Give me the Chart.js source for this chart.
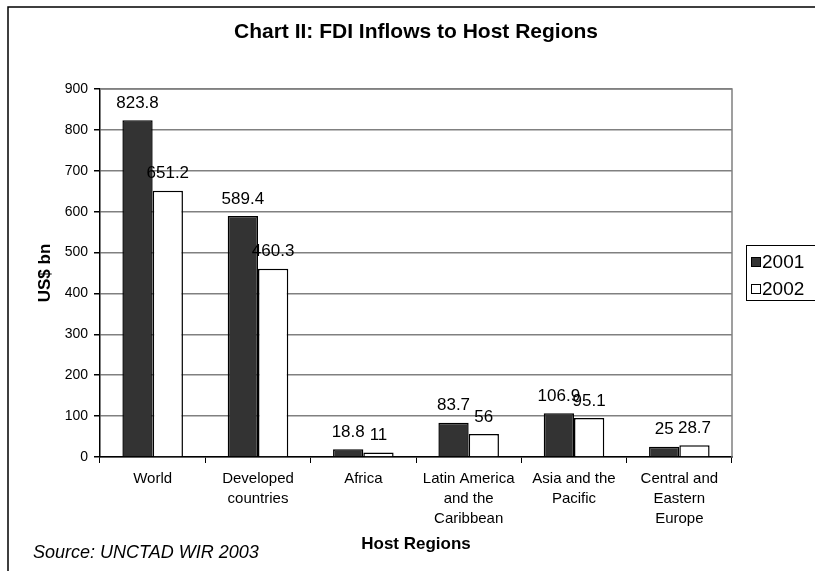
<!DOCTYPE html>
<html>
<head>
<meta charset="utf-8">
<script src="https://cdn.jsdelivr.net/npm/chart.js@4.4.1/dist/chart.umd.min.js"></script>
<style>
  html, body { margin: 0; padding: 0; background: #fff; }
  #wrap { width: 815px; height: 571px; }
</style>
</head>
<body>
<div id="wrap"><canvas id="fdi"></canvas></div>
<script>
var regions = [
  "World",
  ["Developed", "countries"],
  "Africa",
  ["Latin America", "and the", "Caribbean"],
  ["Asia and the", "Pacific"],
  ["Central and", "Eastern", "Europe"]
];
var inflows2001 = [823.8, 589.4, 18.8, 83.7, 106.9, 25];
var inflows2002 = [651.2, 460.3, 11, 56, 95.1, 28.7];
var yTicks = [0, 100, 200, 300, 400, 500, 600, 700, 800, 900];

var FONT = "Arial, 'Liberation Sans', sans-serif";

// value labels above bars
var valueLabels = {
  id: 'valueLabels',
  afterDatasetsDraw: function(chart) {
    var ctx = chart.ctx;
    ctx.save();
    ctx.font = "17px " + FONT;
    ctx.fillStyle = "#000";
    ctx.textAlign = "center";
    ctx.textBaseline = "middle";
    chart.data.datasets.forEach(function(ds, i) {
      chart.getDatasetMeta(i).data.forEach(function(bar, j) {
        ctx.fillText(ds.data[j], bar.x, bar.y - 17);
      });
    });
    ctx.restore();
  }
};

// frame, plot box, title, legend and source note
var extras = {
  id: 'extras',
  beforeDatasetsDraw: function(chart) {
    var a = chart.chartArea, ctx = chart.ctx;
    ctx.save();
    ctx.strokeStyle = "#808080";
    ctx.lineWidth = 1.5;
    ctx.beginPath();
    ctx.moveTo(a.left, a.top);
    ctx.lineTo(a.right, a.top);
    ctx.lineTo(a.right, a.bottom);
    ctx.stroke();
    ctx.restore();
  },
  afterDraw: function(chart) {
    var ctx = chart.ctx, a = chart.chartArea;
    ctx.save();
    // outer frame
    ctx.strokeStyle = "#000";
    ctx.lineWidth = 1.5;
    ctx.strokeRect(8, 7, 830, 600);

    // title
    ctx.fillStyle = "#000";
    ctx.font = "bold 21px " + FONT;
    ctx.textAlign = "center";
    ctx.textBaseline = "middle";
    ctx.fillText("Chart II: FDI Inflows to Host Regions", (a.left + a.right) / 2, 32);

    // legend
    ctx.lineWidth = 1;
    ctx.strokeStyle = "#000";
    ctx.strokeRect(746.5, 245.5, 80, 55);
    ctx.font = "19px " + FONT;
    ctx.textBaseline = "middle";
    ctx.textAlign = "left";
    chart.data.datasets.forEach(function(ds, i) {
      var y = 262 + i * 27;
      ctx.fillStyle = ds.backgroundColor;
      ctx.fillRect(751, y - 5, 10, 10);
      ctx.strokeStyle = "#000";
      ctx.strokeRect(751.5, y - 4.5, 9, 9);
      ctx.fillStyle = "#000";
      ctx.fillText(ds.label, 762, y + 1);
    });

    // source
    ctx.font = "italic 18px " + FONT;
    ctx.textAlign = "left";
    ctx.textBaseline = "middle";
    ctx.fillText("Source: UNCTAD WIR 2003", 33, 553);
    ctx.restore();
  }
};

new Chart(document.getElementById("fdi"), {
  type: 'bar',
  data: {
    labels: regions,
    datasets: [{
      label: "2001",
      data: inflows2001,
      backgroundColor: "#333333",
      borderColor: "#000",
      borderWidth: 1.5
    }, {
      label: "2002",
      data: inflows2002,
      backgroundColor: "#ffffff",
      borderColor: "#000",
      borderWidth: 1.5
    }]
  },
  options: {
    responsive: true,
    maintainAspectRatio: false,
    animation: false,
    datasets: { bar: { categoryPercentage: 0.575, barPercentage: 1.0 } },
    layout: { padding: { left: 30, right: 83, top: 89, bottom: 12 } },
    plugins: {
      legend: { display: false },
      tooltip: { enabled: false },
      title: { display: false }
    },
    scales: {
      x: {
        offset: true,
        afterFit: function(s) { s.height = 102; },
        grid: { drawOnChartArea: false, offset: true, tickLength: 6, color: "#000" },
        border: { color: "#000", width: 1.5 },
        ticks: {
          color: "#000",
          padding: 6,
          maxRotation: 0,
          font: { family: FONT, size: 15, lineHeight: 1.33 }
        },
        title: {
          display: true,
          text: "Host Regions",
          color: "#000",
          font: { family: FONT, size: 17, weight: 'bold' },
          padding: { top: 4, bottom: 4 }
        }
      },
      y: {
        min: 0,
        max: 900,
        afterFit: function(s) { s.width = 70; },
        afterBuildTicks: function(s) {
          s.ticks = yTicks.map(function(v) { return { value: v }; });
        },
        grid: { color: "#808080", lineWidth: 1.5, tickLength: 6, tickColor: "#000" },
        border: { color: "#000", width: 1.5 },
        ticks: {
          color: "#000",
          padding: 6,
          font: { family: FONT, size: 14 }
        },
        title: {
          display: true,
          text: "US$ bn",
          color: "#000",
          font: { family: FONT, size: 17, weight: 'bold' },
          padding: { top: 5, bottom: 0 }
        }
      }
    }
  },
  plugins: [valueLabels, extras]
});
</script>
</body>
</html>
